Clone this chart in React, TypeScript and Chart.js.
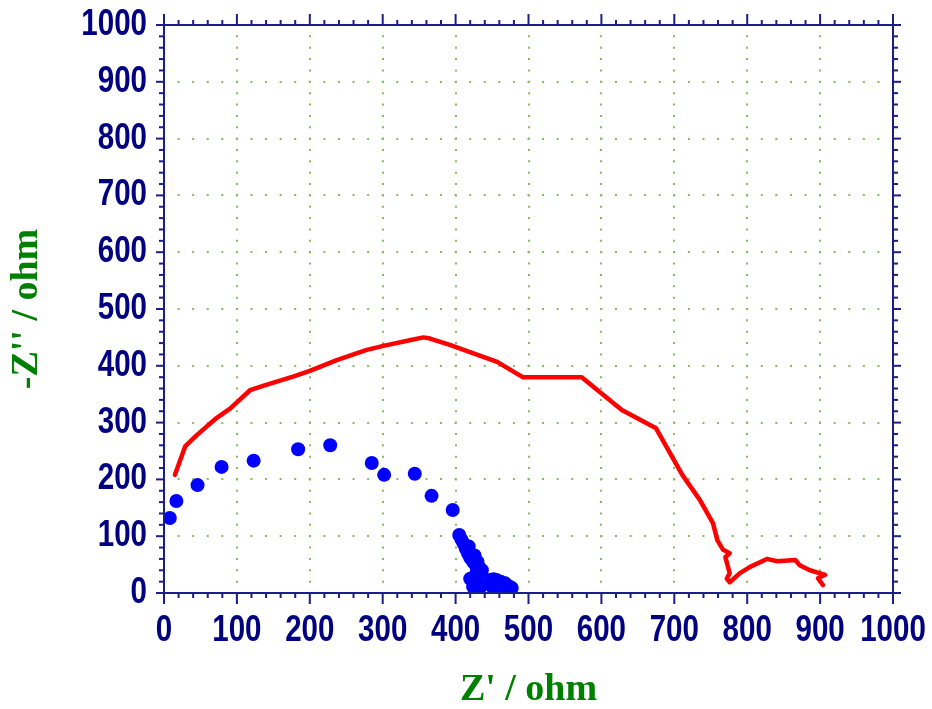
import React, { useEffect, useRef } from "react";
import { Chart, registerables } from "chart.js";

Chart.register(...registerables);

// Red curve (line)
const redX = [15, 29, 45, 72, 91, 118, 139, 177, 200, 237, 278, 301, 337, 356, 365, 392, 457, 492, 573, 628, 675, 711, 735, 753, 759, 767, 776, 770, 776, 772, 776, 790, 804, 827, 841, 866, 872, 886, 907, 897, 904];
const redY = [208, 258, 278, 308, 325, 357, 366, 381, 391, 410, 428, 435, 445, 450, 448, 437, 407, 380, 380, 322, 290, 208, 164, 123, 93, 76, 70, 63, 35, 25, 19, 35, 46, 60, 56, 58, 49, 40, 32, 26, 14];

// Blue curve (dots)
const blueX = [8, 17, 46, 79, 123, 184, 228, 285, 302, 344, 367, 396, 405, 408, 411, 414, 418, 417, 420, 426, 424, 430, 428, 433, 436, 429, 427, 420, 425, 430, 424, 428, 433, 440, 447, 450, 452, 456, 460, 462, 465, 468, 473, 477, 470];
const blueY = [132, 162, 190, 222, 233, 253, 260, 229, 208, 210, 171, 146, 102, 94, 87, 78, 82, 70, 62, 66, 55, 55, 48, 44, 40, 36, 29, 25, 20, 20, 11, 8, 9, 16, 23, 12, 24, 23, 14, 20, 8, 17, 12, 9, 5];

const axisMin = 0;
const axisMax = 1000;
const majorStep = 100;
const minorStep = 20;

const xTitle = "Z' / ohm";
const yTitle = "-Z'' / ohm";

const AXIS_COLOR = "#1c1c8c";
const TICK_COLOR = "#000080";
const GRID_COLOR = "#86bb5e";
const TITLE_COLOR = "#008000";
const TICK_FONT = { family: "'Liberation Sans', Arial, sans-serif", size: 36, weight: "bold" as const, lineHeight: 1 };
const TITLE_FONT = { family: "'Liberation Serif', 'Times New Roman', serif", size: 38, weight: "bold" as const, lineHeight: 1 };
const CONDENSE = 0.82;

const condensePlugin = {
  id: "condenseTicks",
  beforeDraw(chart: any) {
    Object.values(chart.scales).forEach((scale: any) => {
      if (scale.__condensed) return;
      scale.__condensed = true;
      const orig = scale.drawLabels.bind(scale);
      scale.drawLabels = (area: any) => {
        const ctx = scale.ctx;
        const f = ctx.fillText;
        ctx.fillText = function (t: string, x: number, y: number) {
          const w = ctx.measureText(t).width;
          return f.call(ctx, t, x, y, w * CONDENSE);
        };
        try {
          orig(area);
        } finally {
          ctx.fillText = f;
        }
      };
    });
  },
};

const framePlugin = {
  id: "frame",
  afterDatasetsDraw(chart: any) {
    const { ctx, chartArea: a, scales } = chart;
    const xs = scales.x;
    const ys = scales.y;
    ctx.save();
    ctx.strokeStyle = AXIS_COLOR;
    ctx.lineWidth = 2;
    ctx.strokeRect(a.left, a.top, a.right - a.left, a.bottom - a.top);
    const seg = (x1: number, y1: number, x2: number, y2: number) => {
      ctx.beginPath();
      ctx.moveTo(x1, y1);
      ctx.lineTo(x2, y2);
      ctx.stroke();
    };
    for (let v = axisMin; v <= axisMax; v += minorStep) {
      const major = v % majorStep === 0;
      const px = xs.getPixelForValue(v);
      const lx = major ? 11 : 5;
      seg(px, a.bottom, px, a.bottom + lx);
      seg(px, a.top, px, a.top - lx);
      const py = ys.getPixelForValue(v);
      const ly = major ? 8 : 5;
      seg(a.left, py, a.left - ly, py);
      seg(a.right, py, a.right + ly, py);
    }
    ctx.restore();
  },
};

export default function App() {
  const ref = useRef<HTMLCanvasElement | null>(null);
  useEffect(() => {
    if (!ref.current) return;
    const redData = redX.map((x, i) => ({ x, y: redY[i] }));
    const blueData = blueX.map((x, i) => ({ x, y: blueY[i] }));
    const hidden = (c: any) => (c.tick && (c.tick.value === axisMin || c.tick.value === axisMax) ? "rgba(0,0,0,0)" : GRID_COLOR);
    const plain = (v: any) => String(v);
    const chart = new Chart(ref.current, {
      type: "scatter",
      data: {
        datasets: [
          {
            label: "red",
            data: redData,
            showLine: true,
            borderColor: "#ff0000",
            backgroundColor: "#ff0000",
            borderWidth: 4.5,
            pointRadius: 0,
            tension: 0,
            borderJoinStyle: "round",
            borderCapStyle: "round",
          } as any,
          {
            label: "blue",
            data: blueData,
            showLine: false,
            backgroundColor: "#0000ff",
            borderColor: "#0000ff",
            pointRadius: 7,
            pointBorderWidth: 0,
            clip: 0,
          } as any,
        ],
      },
      options: {
        responsive: false,
        animation: false,
        devicePixelRatio: 1,
        layout: { padding: { top: 25, right: 39, left: 0, bottom: 0 } },
        plugins: { legend: { display: false }, tooltip: { enabled: false } },
        scales: {
          x: {
            type: "linear",
            min: axisMin,
            max: axisMax,
            afterFit: (s: any) => {
              s.height = 116;
              s.paddingLeft = 0;
              s.paddingRight = 0;
            },
            ticks: { stepSize: majorStep, color: TICK_COLOR, font: TICK_FONT, padding: 20, maxRotation: 0, autoSkip: false, callback: plain },
            grid: { color: hidden, lineWidth: 2, drawTicks: false, tickLength: 0 },
            border: { display: false, dash: [2, 11.36 - 2], dashOffset: 1 },
            title: { display: true, text: xTitle, color: TITLE_COLOR, font: TITLE_FONT, padding: { top: 0, bottom: 0 } },
          },
          y: {
            type: "linear",
            min: axisMin,
            max: axisMax,
            afterFit: (s: any) => {
              s.width = 164;
              s.paddingTop = 0;
              s.paddingBottom = 0;
            },
            ticks: { stepSize: majorStep, color: TICK_COLOR, font: TICK_FONT, padding: 17, autoSkip: false, callback: plain },
            grid: { color: hidden, lineWidth: 2, drawTicks: false, tickLength: 0 },
            border: { display: false, dash: [2, 14.58 - 2], dashOffset: 1 },
            title: { display: true, text: yTitle, color: TITLE_COLOR, font: TITLE_FONT, padding: { top: 8, bottom: 0 } },
          },
        },
      } as any,
      plugins: [condensePlugin, framePlugin],
    });
    return () => chart.destroy();
  }, []);
  return (
    <div style={{ position: "absolute", left: 0, top: 0, width: 932, height: 709, background: "#fff" }}>
      <canvas ref={ref} width={932} height={709} style={{ display: "block" }} />
    </div>
  );
}
